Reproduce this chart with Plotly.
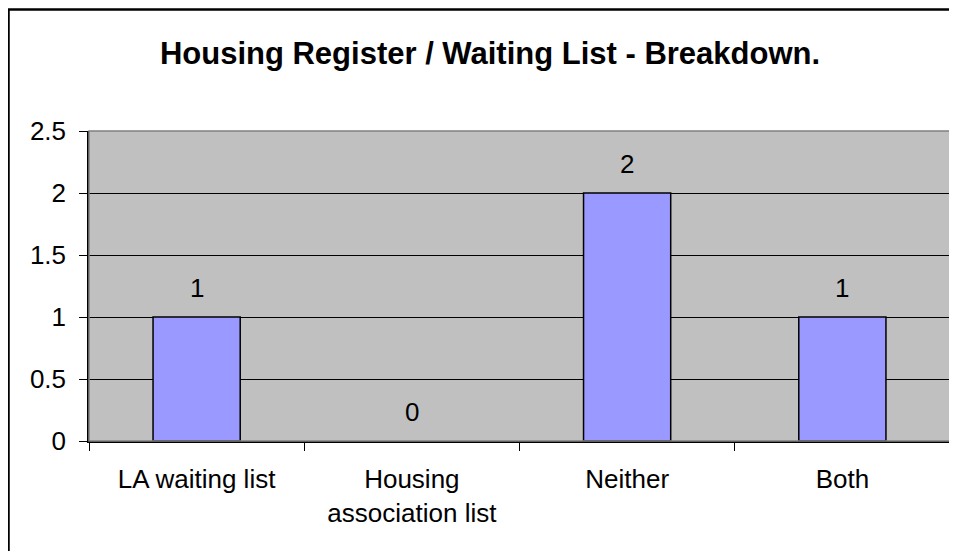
import plotly.graph_objects as go

categories = ["LA waiting list", "Housing<br>association list", "Neither", "Both"]
values = [1, 0, 2, 1]
y_ticks = [0, 0.5, 1, 1.5, 2, 2.5]
y_tick_labels = ["0", "0.5", "1", "1.5", "2", "2.5"]

# page is offset by 8px (body margin), so layout pixel values are figure-relative
W, H = 957, 551
OFF = 8
L, T = 89 - OFF, 131 - OFF
R = W - (950 - OFF)
B = H - (441 - OFF)
pw, ph = W - L - R, H - T - B

def px_x(x):
    return (x - OFF - L) / pw

def px_y(y):
    return (H - B - (y - OFF)) / ph

FONT = "Liberation Sans, Arial"

fig = go.Figure()
fig.add_trace(go.Bar(
    x=categories, y=values,
    marker=dict(color="#9999FF",
                line=dict(color="#000000", width=[1.5 if v else 0 for v in values])),
    width=0.405,
    hoverinfo="skip",
))

for c, v in zip(categories, values):
    fig.add_annotation(x=c, y=v, text=str(v), showarrow=False, yshift=29,
                       font=dict(family=FONT, size=26, color="#000000"))

fig.add_shape(type="rect", xref="paper", yref="paper", x0=0, x1=1, y0=0, y1=1,
              line=dict(color="#808080", width=1.5), layer="above")
fig.add_shape(type="rect", xref="paper", yref="paper",
              x0=px_x(8.5), x1=px_x(1200), y0=px_y(900), y1=px_y(9.5),
              line=dict(color="#000000", width=2.5), layer="above")

fig.update_layout(
    width=W, height=H,
    margin=dict(l=L, r=R, t=T, b=B, pad=0),
    paper_bgcolor="#FFFFFF", plot_bgcolor="#C0C0C0",
    showlegend=False,
    title=dict(text="<b>Housing Register / Waiting List - Breakdown.</b>",
               x=(490 - OFF) / W, xanchor="center", y=1 - (53 - OFF) / H, yanchor="middle",
               yref="container",
               font=dict(family=FONT, size=31, color="#000000")),
    font=dict(family=FONT, size=26, color="#000000"),
)
fig.update_xaxes(
    showgrid=False, showline=True, linecolor="#000000", linewidth=1.5,
    ticks="outside", tickson="boundaries", ticklen=8, tickcolor="#000000",
    ticklabelstandoff=14,
    tickfont=dict(family=FONT, size=26, color="#000000"),
)
fig.update_yaxes(
    range=[0, 2.5], tickvals=y_ticks, ticktext=y_tick_labels,
    showgrid=True, gridcolor="#000000", gridwidth=1,
    showline=True, linecolor="#000000", linewidth=1.5,
    ticks="outside", ticklen=8, tickcolor="#000000",
    ticklabelstandoff=8, zeroline=False,
    tickfont=dict(family=FONT, size=26, color="#000000"),
)

fig.write_html("out.html")
